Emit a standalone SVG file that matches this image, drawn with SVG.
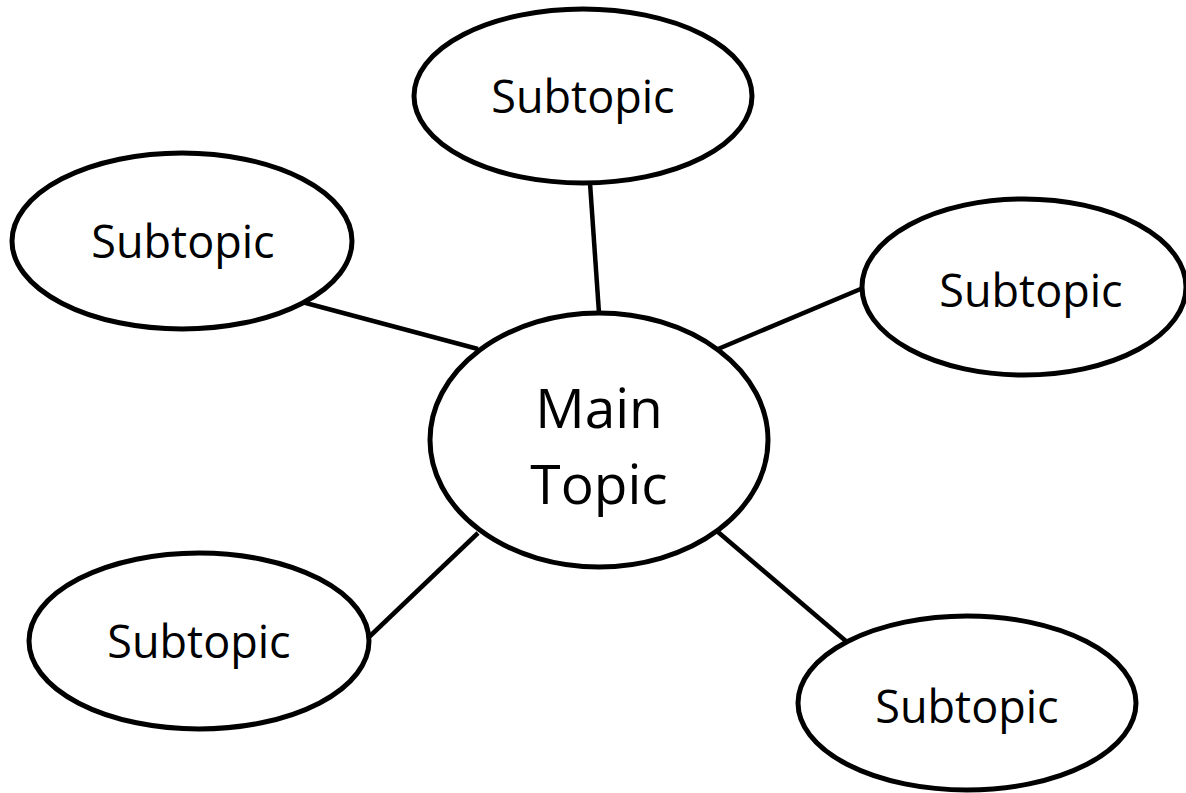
<svg xmlns="http://www.w3.org/2000/svg" width="1186" height="793" viewBox="0 0 1186 793">
<style>
.node ellipse{fill:#fff;stroke:#000;stroke-width:5}
.conn line{stroke:#000;stroke-width:4.5}
text{font-family:"Open Sans","Liberation Sans",sans-serif;fill:#000;text-anchor:middle}
.sub{font-size:45px}
.main{font-size:55px}
</style>
<rect width="1186" height="793" fill="#fff"/>
<g id="connectors" class="conn">
<line x1="590" y1="183" x2="599" y2="313"/>
<line x1="302" y1="302" x2="478" y2="349"/>
<line x1="863" y1="288" x2="718" y2="349"/>
<line x1="368" y1="638" x2="478" y2="533"/>
<line x1="847" y1="642" x2="718" y2="532"/>
</g>
<g id="main" class="node">
<ellipse cx="599" cy="440" rx="169" ry="127"/>
<text class="main" x="599" y="428">Main</text>
<text class="main" x="599" y="504">Topic</text>
</g>
<g id="sub-top" class="node">
<ellipse cx="583" cy="96" rx="169" ry="87"/>
<text class="sub" x="583" y="113">Subtopic</text>
</g>
<g id="sub-left" class="node">
<ellipse cx="182" cy="241" rx="170" ry="88"/>
<text class="sub" x="183" y="258">Subtopic</text>
</g>
<g id="sub-right" class="node">
<ellipse cx="1024" cy="287" rx="162" ry="88"/>
<text class="sub" x="1031" y="307">Subtopic</text>
</g>
<g id="sub-bottom-left" class="node">
<ellipse cx="199" cy="641" rx="170" ry="88"/>
<text class="sub" x="199" y="658">Subtopic</text>
</g>
<g id="sub-bottom-right" class="node">
<ellipse cx="967" cy="703" rx="169" ry="87"/>
<text class="sub" x="967" y="723">Subtopic</text>
</g>
</svg>
